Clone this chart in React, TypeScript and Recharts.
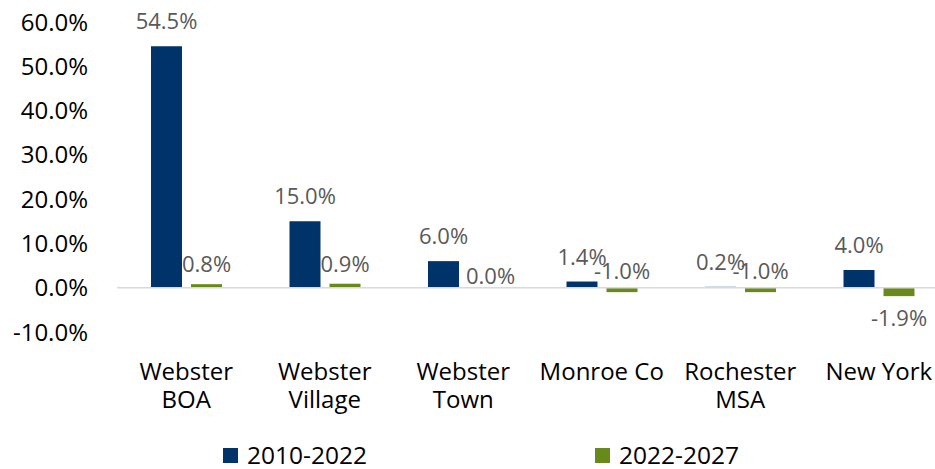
import React from 'react';
import { BarChart, Bar, XAxis, YAxis, ReferenceLine, LabelList, Legend } from 'recharts';

const categories = ['Webster\nBOA', 'Webster\nVillage', 'Webster\nTown', 'Monroe Co', 'Rochester\nMSA', 'New York'];
const series1Name = '2010-2022';
const series2Name = '2022-2027';
const series1 = [54.5, 15.0, 6.0, 1.4, 0.2, 4.0];
const series2 = [0.8, 0.9, 0.0, -1.0, -1.0, -1.9];
const yTicks = [-10, 0, 10, 20, 30, 40, 50, 60];

const data = categories.map((c, i) => ({ name: c, s1: series1[i], s2: series2[i] }));

const NAVY = '#003369';
const GREEN = '#688A1A';
const FONT = "'Open Sans', sans-serif";
const LABEL_COLOR = '#595959';

const fmt = (v: number) => `${Number(v).toFixed(1)}%`;

const extent = (p: any) => {
  const y = Number(p.y);
  const h = Number(p.height);
  return { top: Math.min(y, y + h), bottom: Math.max(y, y + h) };
};

const renderLabel1 = (p: any) => {
  const { x, width, value } = p;
  const { top } = extent(p);
  return (
    <text x={x + width / 2} y={top - 17} textAnchor="middle" fill={LABEL_COLOR} fontSize={22} fontFamily={FONT}>
      {fmt(value)}
    </text>
  );
};

const renderLabel2 = (p: any) => {
  const { x, width, value } = p;
  const { top, bottom } = extent(p);
  const v = Number(value);
  let baseY: number;
  let dx = 0;
  if (v > 0.5) baseY = top - 12;
  else if (v >= 0) {
    baseY = bottom - 4;
    dx = 7;
  } else if (v > -1.5) baseY = top - 9;
  else baseY = bottom + 30;
  return (
    <text x={x + width / 2 + dx} y={baseY} textAnchor="middle" fill={LABEL_COLOR} fontSize={22} fontFamily={FONT}>
      {fmt(v)}
    </text>
  );
};

const XTick = (p: any) => {
  const { x, y, payload } = p;
  const lines = String(payload.value).split('\n');
  return (
    <text x={x} y={y} textAnchor="middle" fill="#000" fontSize={24} fontFamily={FONT}>
      {lines.map((l, i) => (
        <tspan key={i} x={x} dy={i === 0 ? 48 : 28}>
          {l}
        </tspan>
      ))}
    </text>
  );
};

const renderLegend = (props: any) => {
  const payload = props.payload || [];
  return (
    <div
      style={{
        display: 'flex',
        alignItems: 'center',
        height: 28,
        paddingLeft: 223,
        fontFamily: FONT,
        fontSize: 24.5,
        lineHeight: '28px',
        color: '#000',
        boxSizing: 'border-box',
      }}
    >
      {payload.map((e: any, i: number) => (
        <div key={i} style={{ display: 'flex', alignItems: 'center', width: i === 0 ? 372 : 'auto' }}>
          <span style={{ display: 'inline-block', width: 15, height: 15, background: e.color, marginRight: 9 }} />
          <span>{e.value}</span>
        </div>
      ))}
    </div>
  );
};

export default function App() {
  return (
    <div style={{ position: 'absolute', left: 0, top: 0, width: 935, height: 469, overflow: 'hidden', background: '#fff' }}>
      <BarChart
        width={960}
        height={469}
        data={data}
        margin={{ top: 22, right: 12, left: 0, bottom: 0 }}
        barSize={31}
        barGap={9}
      >
        <XAxis
          dataKey="name"
          axisLine={false}
          tickLine={false}
          tickSize={0}
          tickMargin={0}
          height={109}
          interval={0}
          tick={<XTick />}
        />
        <YAxis
          width={117}
          domain={[-10, 60]}
          ticks={yTicks}
          allowDataOverflow
          axisLine={false}
          tickLine={false}
          tickSize={0}
          tickMargin={29}
          tickFormatter={(v: number) => `${v.toFixed(1)}%`}
          tick={{ fill: '#000', fontSize: 24, fontFamily: FONT }}
        />
        <ReferenceLine y={0} stroke="#D9D9D9" strokeWidth={1.5} />
        <Legend verticalAlign="bottom" wrapperStyle={{ left: 0, width: 935 }} content={renderLegend} />
        <Bar dataKey="s1" name={series1Name} fill={NAVY} isAnimationActive={false}>
          <LabelList dataKey="s1" content={renderLabel1} />
        </Bar>
        <Bar dataKey="s2" name={series2Name} fill={GREEN} minPointSize={0.1} isAnimationActive={false}>
          <LabelList dataKey="s2" content={renderLabel2} />
        </Bar>
      </BarChart>
    </div>
  );
}
